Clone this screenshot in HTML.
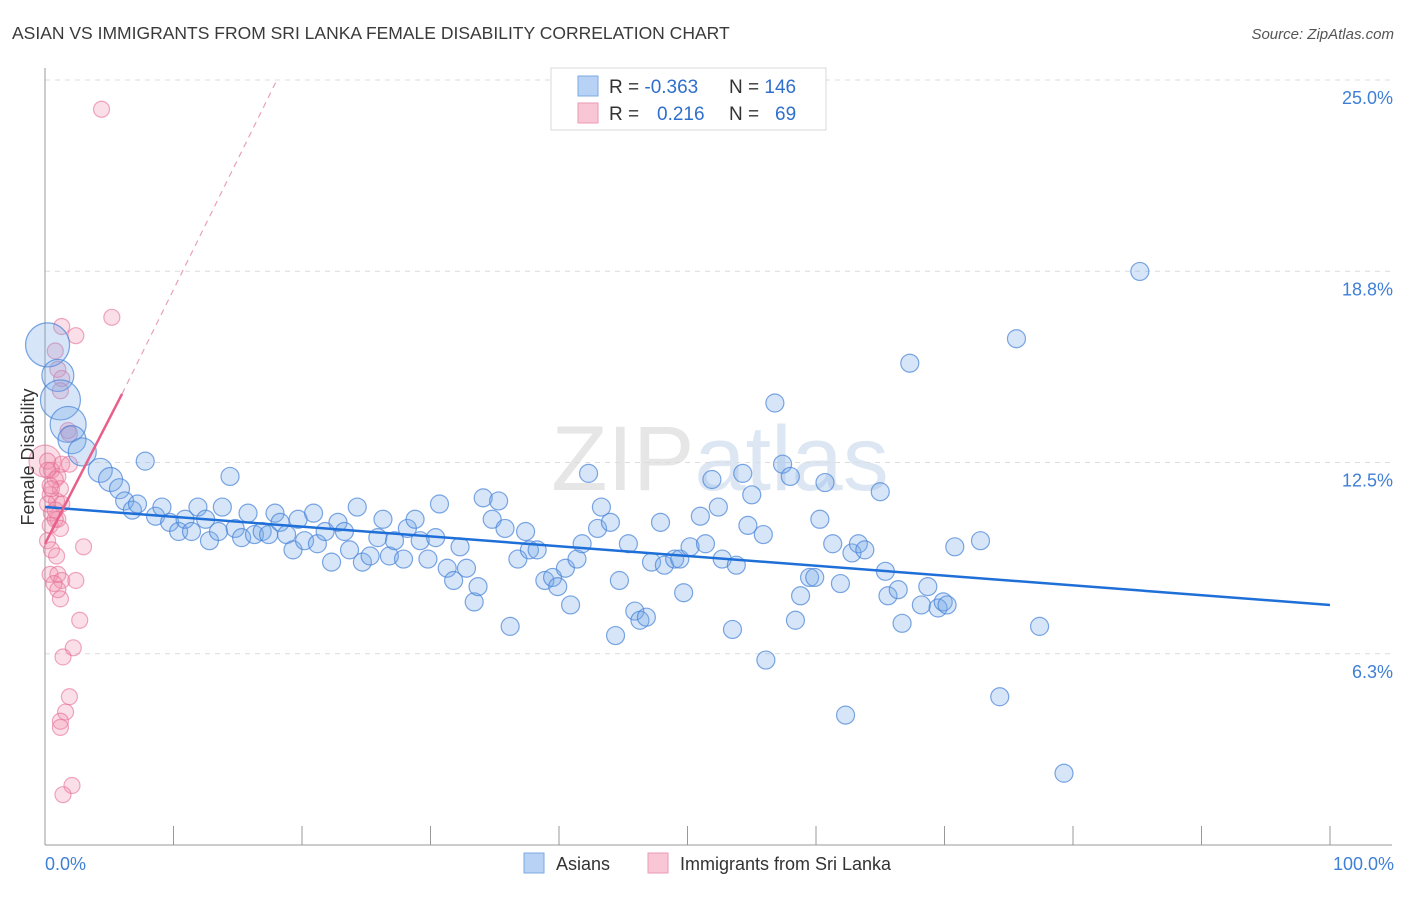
<!DOCTYPE html>
<html><head><meta charset="utf-8"><style>
body{margin:0;background:#fff;font-family:"Liberation Sans",sans-serif}
svg text{font-family:"Liberation Sans",sans-serif}
</style></head><body>
<svg id="chart" width="1406" height="892" xmlns="http://www.w3.org/2000/svg">
<text x="12" y="39" font-size="17.5" fill="#3a3a3a">ASIAN VS IMMIGRANTS FROM SRI LANKA FEMALE DISABILITY CORRELATION CHART</text>
<text x="1394" y="39" font-size="15" font-style="italic" fill="#555" text-anchor="end">Source: ZipAtlas.com</text>
<text x="720" y="490" font-size="92" fill="#e6e6e6" text-anchor="middle" font-family="Liberation Serif">ZIP<tspan fill="#dde7f3" font-family="Liberation Sans">atlas</tspan></text>
<g id="grid"></g>
<g id="axes"></g>
<g id="pink"></g>
<g id="blue"></g>
<g id="lines"></g>
<text transform="translate(34,457) rotate(-90)" font-size="18" fill="#333" text-anchor="middle">Female Disability</text>
<g>
<rect x="551" y="68" width="275" height="62" fill="#fff" stroke="#d8d8d8"/>
<rect x="578" y="76" width="20" height="20" fill="#b7d2f5" stroke="#7ea9e3"/>
<rect x="578" y="103" width="20" height="20" fill="#f9c6d5" stroke="#ec9ab4"/>
<text x="609" y="93" font-size="19" fill="#333">R = <tspan fill="#2f6fcc">-0.363</tspan><tspan x="729">N = </tspan><tspan fill="#2f6fcc">146</tspan></text>
<text x="609" y="120" font-size="19" fill="#333">R = <tspan x="657" fill="#2f6fcc">0.216</tspan><tspan x="729">N = </tspan><tspan x="775" fill="#2f6fcc">69</tspan></text>
</g>
<g>
<rect x="524" y="853" width="20" height="20" fill="#b7d2f5" stroke="#7ea9e3"/>
<text x="556" y="870" font-size="18" fill="#333">Asians</text>
<rect x="648" y="853" width="20" height="20" fill="#f9c6d5" stroke="#ec9ab4"/>
<text x="680" y="870" font-size="18" fill="#333">Immigrants from Sri Lanka</text>
</g>
</svg>
<script>
const yTicks=[25,18.75,12.5,6.25];
const yTickLabels=["25.0%","18.8%","12.5%","6.3%"];
const xTickLabels=["0.0%","100.0%"];
const blueX=[0.2,1.0,1.2,1.8,2.1,2.9,4.3,5.1,5.8,7.8,14.4,6.2,6.8,7.2,8.6,9.1,9.7,10.4,10.9,11.4,11.9,12.5,12.8,13.5,13.8,14.8,15.3,15.8,16.3,16.9,17.4,17.9,18.3,18.8,19.3,19.7,20.2,20.9,21.2,21.8,22.3,22.8,23.3,23.7,24.3,24.7,25.3,25.9,26.3,26.8,27.2,27.9,28.2,28.8,29.2,29.8,30.4,30.7,31.3,31.8,32.3,32.8,33.4,33.7,34.1,34.8,35.3,35.8,36.2,36.8,37.4,37.7,38.3,38.9,39.5,39.9,40.5,40.9,41.4,41.8,42.3,43.0,43.3,44.0,44.4,44.7,45.4,45.9,46.3,46.8,47.2,47.9,48.2,49.0,49.4,49.7,50.2,51.0,51.4,51.9,52.4,52.7,53.5,53.8,54.3,54.7,55.0,55.9,56.1,56.8,57.4,58.0,58.4,58.8,59.5,59.9,60.3,60.7,61.3,61.9,62.3,62.8,63.3,63.8,65.0,65.4,65.6,66.4,66.7,67.3,68.2,68.7,69.5,69.9,70.2,70.8,72.8,74.3,75.6,77.4,79.3,85.2];
const blueY=[16.9,15.9,15.1,14.3,13.8,13.4,12.8,12.5,12.2,13.1,12.6,11.8,11.5,11.7,11.3,11.6,11.1,10.8,11.2,10.8,11.6,11.2,10.5,10.8,11.6,10.9,10.6,11.4,10.7,10.8,10.7,11.4,11.1,10.7,10.2,11.2,10.5,11.4,10.4,10.8,9.8,11.1,10.8,10.2,11.6,9.8,10.0,10.6,11.2,10.0,10.5,9.9,10.9,11.2,10.5,9.9,10.6,11.7,9.6,9.2,10.3,9.6,8.5,9.0,11.9,11.2,11.8,10.9,7.7,9.9,10.8,10.2,10.2,9.2,9.3,9.0,9.6,8.4,9.9,10.4,12.7,10.9,11.6,11.1,7.4,9.2,10.4,8.2,7.9,8.0,9.8,11.1,9.7,9.9,9.9,8.8,10.3,11.3,10.4,12.5,11.6,9.9,7.6,9.7,12.7,11.0,12.0,10.7,6.6,15.0,13.0,12.6,7.9,8.7,9.3,9.3,11.2,12.4,10.4,9.1,4.8,10.1,10.4,10.2,12.1,9.5,8.7,8.9,7.8,16.3,8.4,9.0,8.3,8.5,8.4,10.3,10.5,5.4,17.1,7.7,2.9,19.3];
const blueSize=[22,16,20,18,14,14,12,12,10];
const pinkX=[0,4.4,5.2,1.3,2.4,0.8,1.0,1.3,1.2,1.8,1.9,0.2,0.5,1.0,1.3,1.9,0.8,1.2,0.4,0.9,1.3,0.5,1.0,0.4,0.8,1.2,0.2,0.5,3.0,0.9,0.4,1.0,1.3,0.7,1.0,2.4,1.2,2.7,2.2,1.4,1.9,1.6,1.2,1.2,2.1,1.4,0.2,0.4,0.5,0.8,0.2];
const pinkY=[13.1,24.6,17.8,17.5,17.2,16.7,16.1,15.8,15.4,14.1,14.0,13.1,12.8,12.6,13.0,13.0,12.5,12.2,12.0,11.8,11.7,11.4,11.2,11.0,11.2,10.9,10.5,10.2,10.3,10.0,9.4,9.4,9.2,9.1,8.9,9.2,8.6,7.9,7.0,6.7,5.4,4.9,4.6,4.4,2.5,2.2,12.8,12.3,12.2,11.5,11.7];
const pinkSize=[16];
const blueTrend=[[0,11.6],[100,8.4]];
const pinkTrendSolid=[[0,10.4],[6,15.3]];
const pinkTrendDash=[[6,15.3],[18.1,25.6]];

const NS="http://www.w3.org/2000/svg";
const X=p=>45+p*12.85;
const Y=v=>97+(25-v)*30.6;
function mk(t,a,parent){const e=document.createElementNS(NS,t);for(const k in a)e.setAttribute(k,a[k]);document.getElementById(parent).appendChild(e);return e;}
yTicks.forEach((t,i)=>{
 const g=mk('line',{x1:45,x2:1392,y1:Y(t)-17,y2:Y(t)-17,stroke:'#dcdcdc','stroke-dasharray':'5,5'},'grid');
 
 
 const l=mk('text',{x:1393,y:Y(t)+7,'font-size':18,fill:'#3f7fd6','text-anchor':'end'},'grid');
 l.textContent=yTickLabels[i];
 
 
});
const ax=mk('line',{x1:45,x2:1392,y1:845,y2:845,stroke:'#999'},'axes');


const ay=mk('line',{x1:45,x2:45,y1:68,y2:845,stroke:'#999'},'axes');


for(let i=0;i<=10;i++){
 const t=mk('line',{x1:X(i*10),x2:X(i*10),y1:826,y2:845,stroke:'#999'},'axes');
 
 
}
[[0,'start',45],[100,'end',1394]].forEach((d,i)=>{
 const l=mk('text',{x:d[2],y:870,'font-size':18,fill:'#3f7fd6','text-anchor':d[1]},'axes');
 l.textContent=xTickLabels[i];
 
 
});
pinkX.forEach((x,i)=>{
 const c=mk('circle',{cx:X(x),cy:Y(pinkY[i]),r:pinkSize[i]||8,fill:'rgba(242,140,172,0.28)',stroke:'rgba(230,110,150,0.6)','stroke-width':1.2},'pink');
 
 
});
blueX.forEach((x,i)=>{
 const c=mk('circle',{cx:X(x),cy:Y(blueY[i]),r:blueSize[i]||9,fill:'rgba(120,170,232,0.3)',stroke:'rgba(70,130,215,0.7)','stroke-width':1.2},'blue');
 
 
});
function ln(d,st,name){
 const l=mk('line',Object.assign({x1:X(d[0][0]),y1:Y(d[0][1]),x2:X(d[1][0]),y2:Y(d[1][1])},st),'lines');
 
 
}
ln(blueTrend,{stroke:'#1f6fd8','stroke-width':2.5},'asian-trend-line');
ln(pinkTrendSolid,{stroke:'#e8608a','stroke-width':2.5},'sri-lanka-trend-line');
ln(pinkTrendDash,{stroke:'#e8a0b8','stroke-width':1.2,'stroke-dasharray':'6,5'},'sri-lanka-trend-extension');
</script>
</body></html>
